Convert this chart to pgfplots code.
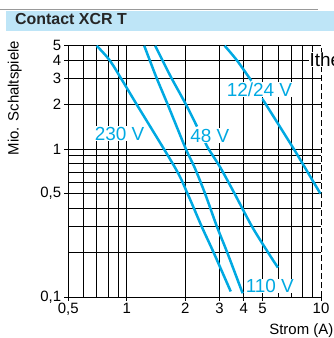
\documentclass[border=0pt]{standalone}
\usepackage{fontspec}
\setmainfont{Liberation Sans}
\usepackage{pgfplots}
\pgfplotsset{compat=1.18}
\definecolor{cy}{RGB}{0,169,226}
\definecolor{band}{RGB}{190,229,247}
\tikzset{gridl/.style={black, line width=0.75bp},
  clab/.style={text=cy, inner sep=0.6bp, fill=white, font=\fontsize{19}{19}\selectfont}}
\begin{document}
\begin{tikzpicture}
\begin{axis}[
  name=ax,
  xmode=log, ymode=log,
  scale only axis, width=252.7bp, height=251.3bp,
  xmin=0.5, xmax=10, ymin=0.1, ymax=5,
  axis x line*=bottom, axis y line*=left,
  axis line style={black, line width=0.8bp, -},
  xtick={0.5,1,2,3,4,5,10},
  xticklabels={{0,5},1,2,3,4,5,10},
  ytick={0.1,0.5,1,2,3,4,5},
  yticklabels={{0,1},{0,5},1,2,3,4,5},
  xminorticks=false, yminorticks=false,
  tick align=outside, major tick length=4bp,
  tick style={black, line width=0.8bp},
  ticklabel style={font=\fontsize{15}{15}\selectfont},
  xticklabel style={inner sep=0pt, yshift=-2bp},
  yticklabel style={inner sep=0pt, xshift=-3bp},
  clip=false,
  /pgf/number format/assume math mode=true,
]
\pgfplotsinvokeforeach{0.6,0.7,0.8,0.9,1,2,3,4,5,6,7,8,9}{\draw[gridl] (axis cs:#1,0.1) -- (axis cs:#1,5);}
\pgfplotsinvokeforeach{0.2,0.3,0.4,0.5,0.6,0.7,0.8,0.9,1,2,3,4,5}{\draw[gridl] (axis cs:0.5,#1) -- (axis cs:10,#1);}
\draw[black, line width=0.8bp, dash pattern=on 6bp off 3bp] (axis cs:10,0.1) -- (axis cs:10,5);

% 230 V
\addplot[cy, line width=2.5bp, smooth, tension=0.5] coordinates {
(0.70,5) (0.815,4) (0.935,3) (1.126,2) (1.776,0.746) (2.055,0.5) (2.43,0.3) (2.80,0.2) (3.43,0.109)};
% 110 V
\addplot[cy, line width=2.5bp, smooth, tension=0.5] coordinates {
(1.23,5) (1.312,4) (1.428,3) (1.625,2) (2.016,1) (2.24,0.746) (2.53,0.5) (2.91,0.3) (3.29,0.2) (3.95,0.106)};
% 48 V
\addplot[cy, line width=2.5bp, smooth, tension=0.5] coordinates {
(1.40,5) (1.524,4) (1.704,3) (2.018,2) (2.30,1.42)};
\addplot[cy, line width=2.5bp, smooth, tension=0.5] coordinates {
(2.54,1.105) (2.64,1) (3.04,0.746) (3.59,0.5) (4.41,0.3) (5.34,0.2) (6.0,0.158)};
% 12/24 V
\addplot[cy, line width=2.5bp, smooth, tension=0.5] coordinates {
(3.19,5) (3.68,4) (4.30,3) (4.38,2.90)};
\addplot[cy, line width=2.5bp, smooth, tension=0.5] coordinates {
(5.0,2.16) (5.21,2) (7.25,1) (8.03,0.8) (9.14,0.6) (9.93,0.5)};

\node[clab, anchor=base east] at (axis cs:1.242,1.152) {230 V};
\node[clab, anchor=base west] at (axis cs:2.104,1.1166) {48 V};
\node[clab, anchor=base west] at (axis cs:3.244,2.285) {12/24 V};
\node[clab, anchor=base west] at (axis cs:4.06,0.107) {110 V};
\end{axis}
\coordinate (O) at ([xshift=-68.3bp, yshift=45.7bp]ax.north west);
\begin{scope}[shift={(O)}, x=1bp, y=-1bp]
\fill[band] (6,11) rectangle (340,30.7);
\draw[black!40, line width=0.8bp] (0,9.8) -- (318,9.8);
\node[anchor=base west, inner sep=0pt, font=\fontsize{16}{16}\selectfont\bfseries, text=black!85] at (15,24) {Contact XCR T};
\node[anchor=base, rotate=90, inner sep=0pt, font=\fontsize{15}{15}\selectfont] at (18.5,98) {Mio. Schaltspiele};
\node[anchor=base east, inner sep=0pt, font=\fontsize{15}{15}\selectfont] at (333.5,334.5) {Strom (A)};
\node[anchor=base west, inner sep=0.5bp, fill=white, font=\fontsize{19}{19}\selectfont] at (309,66.7) {Ithe};
\end{scope}
\pgfresetboundingbox
\path[shift={(O)}, x=1bp, y=-1bp] (0,0) rectangle (334,338);
\end{tikzpicture}
\end{document}
